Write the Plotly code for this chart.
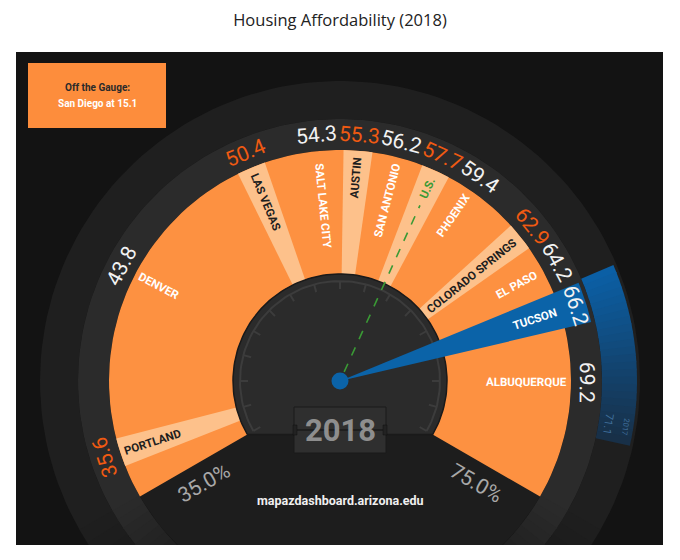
import numpy as np
import plotly.graph_objects as go

# ---- data ----
title = "Housing Affordability (2018)"
cities = ["Portland", "Denver", "Las Vegas", "Salt Lake City", "Austin", "San Antonio",
          "U.S.", "Phoenix", "Colorado Springs", "El Paso", "Tucson", "Albuquerque"]
values = [35.6, 43.8, 50.4, 54.3, 55.3, 56.2, 57.7, 59.4, 62.9, 64.2, 66.2, 69.2]
gauge_range = [35.0, 75.0]
highlight = "Tucson"
prev_year = "2017"
prev_value = 71.1
year = "2018"
off_gauge = ["San Diego", 15.1]
source = "mapazdashboard.arizona.edu"

# ---- styling ----
FONT = "Roboto, Liberation Sans, sans-serif"
ORANGE = "#fd9141"
ORANGE_LIGHT = "#fdc18b"
ORANGE_TEXT = "#f05a12"
BLUE = "#0b63a8"
A0, A1 = 210.0, -30.0          # screen angle of gauge min / max
SLOT = 10.0                    # angular room given to each city
R_DIAL, R_GAUGE, R_VALUE, R_OUTER = 107, 231, 262, 300


def ang(v):
    lo, hi = gauge_range
    return A0 + (v - lo) / (hi - lo) * (A1 - A0)


def spread(ideal, gap, hi):
    # push neighbouring labels apart so they don't overlap
    pos = list(ideal)
    for _ in range(400):
        for i in range(len(pos) - 1):
            d = pos[i] - pos[i + 1]
            if d < gap:
                s = (gap - d) / 2
                pos[i] += s
                pos[i + 1] -= s
        pos[0] = min(pos[0], hi)
    return pos


def xy(r, a):
    t = np.radians(a)
    return r * np.cos(t), r * np.sin(t)


def sector(r0, r1, a0, a1, n=48):
    t = np.linspace(a0, a1, n)
    xo, yo = xy(r1, t)
    if r0 <= 0:
        return [0, *xo, 0], [0, *yo, 0]
    xi, yi = xy(r0, t[::-1])
    return [*xo, *xi, xo[0]], [*yo, *yi, yo[0]]


fig = go.Figure()


def poly(xs, ys, color):
    fig.add_trace(go.Scatter(x=xs, y=ys, mode="lines", fill="toself", fillcolor=color,
                             line=dict(width=0, color=color), hoverinfo="skip", showlegend=False))


def mix(c0, c1, f):
    return "rgb(%d,%d,%d)" % tuple(round(a + (b - a) * f) for a, b in zip(c0, c1))


def fading_ring(r0, r1, core, edge, ext=22, steps=10):
    poly(*sector(r0, r1, A0, A1, 120), mix(core, core, 0))
    for k in range(steps):
        f0, f1 = k / steps, (k + 1) / steps
        c = mix(core, edge, (k + 0.5) / steps)
        poly(*sector(r0, r1, A0 + ext * f0 - 0.3, A0 + ext * f1, 6), c)
        poly(*sector(r0, r1, A1 - ext * f0 + 0.3, A1 - ext * f1, 6), c)


pos = spread([ang(v) - SLOT / 2 for v in values], SLOT, A0 - 12)
hi_idx = cities.index(highlight)

# rings and inner disc
fading_ring(R_VALUE, R_OUTER, (31, 31, 31), (20, 20, 20), ext=30)
fading_ring(R_GAUGE, R_VALUE, (43, 43, 43), (28, 28, 28), ext=22)
poly(*sector(0, R_GAUGE, 0, 360, 120), "#1d1d1d")

# orange gauge + light bands
poly(*sector(R_DIAL, R_GAUGE, A0, A1, 120), ORANGE)
for i, a in enumerate(pos):
    if i % 2 == 0 and cities[i] != highlight:
        poly(*sector(R_DIAL, R_GAUGE, a + 3.6, a - 3.6, 8), ORANGE_LIGHT)

# dial
dx, dy = xy(R_DIAL, np.linspace(A0, A1, 120))
fig.add_trace(go.Scatter(x=[*dx, dx[0]], y=[*dy, dy[0]], mode="lines", fill="toself",
                         fillcolor="#2b2b2b", line=dict(width=1.5, color="#1a1a1a"),
                         hoverinfo="skip", showlegend=False))
rx, ry = xy(100, np.linspace(A0, A1, 120))
fig.add_trace(go.Scatter(x=rx, y=ry, mode="lines", line=dict(width=2, color="#3c3c3c"),
                         hoverinfo="skip", showlegend=False))
tx, ty = [], []
for a in np.arange(A0, A1 - 0.1, -15):
    x0, y0 = xy(92, a)
    x1, y1 = xy(100, a)
    tx += [x0, x1, None]
    ty += [y0, y1, None]
fig.add_trace(go.Scatter(x=tx, y=ty, mode="lines", line=dict(width=2, color="#3c3c3c"),
                         hoverinfo="skip", showlegend=False))

# U.S. reference line
us = cities.index("U.S.")
ux, uy = xy(np.array([10, 226 - len(cities[us]) * 7 - 5]), pos[us])
fig.add_trace(go.Scatter(x=ux, y=uy, mode="lines", line=dict(width=1.6, color="#3a9a35", dash="dash"),
                         hoverinfo="skip", showlegend=False))

# highlighted city: wedge + change since previous year on the outer ring
poly(*sector(0, 258, pos[hi_idx] + 4.6, pos[hi_idx] - 4.6, 10), BLUE)
a_from, a_to = ang(values[hi_idx]), ang(prev_value) - 6
n = 24
for k in range(n):
    s0 = a_from + (a_to - a_from) * k / n
    s1 = a_from + (a_to - a_from) * (k + 1) / n
    poly(*sector(R_VALUE, R_OUTER - 3, s0 + 0.2, s1, 4), mix((11, 95, 165), (24, 48, 72), k / (n - 1)))
fig.add_trace(go.Scatter(x=[0], y=[0], mode="markers", marker=dict(size=17, color=BLUE),
                         hoverinfo="skip", showlegend=False))

ann = []
for i, (c, v, a) in enumerate(zip(cities, values, pos)):
    light = i % 2 == 0 and c != highlight
    # value on the dark ring
    x, y = xy(247, a)
    ann.append(dict(x=x, y=y, text=f"{v:.1f}", textangle=90 - a, showarrow=False,
                    font=dict(family=FONT, size=21, color=ORANGE_TEXT if light else "#f2f2f2")))
    # city name along the radius
    name = c if c == "U.S." else c.upper()
    rc = 226 - len(name) * 3.6
    x, y = xy(rc, a)
    col = "#3a9a35" if c == "U.S." else ("#1e1e1e" if light else "white")
    ann.append(dict(x=x, y=y, text=name, textangle=(180 - a) if a > 90 else -a, showarrow=False,
                    font=dict(family=FONT, size=11.5, color=col, weight="bold")))

pa = ang(prev_value) - 2.5
x, y = xy(272, pa)
ann.append(dict(x=x, y=y, text=f"{prev_value:.1f}", textangle=90 - pa, showarrow=False,
                font=dict(family=FONT, size=11, color="#41709c")))
x, y = xy(289, pa)
ann.append(dict(x=x, y=y, text=prev_year, textangle=90 - pa, showarrow=False,
                font=dict(family=FONT, size=7.5, color="#41709c")))

# gauge end labels
for v, a, ta in [(gauge_range[0], A0 + 7, 180 - A0), (gauge_range[1], A1 - 7, -A1)]:
    x, y = xy(170, a)
    ann.append(dict(x=x, y=y, text=f"{v:.1f}%", textangle=ta, showarrow=False,
                    font=dict(family=FONT, size=21, color="#a8a8a8")))

ann.append(dict(x=0, y=-49, text=year, showarrow=False,
                font=dict(family=FONT, size=31, color="#8e8e8e", weight="bold")))
ann.append(dict(x=0, y=-119, text=source, showarrow=False,
                font=dict(family=FONT, size=12.5, color="#f0f0f0", weight="bold")))
ann.append(dict(x=-243, y=294, text="Off the Gauge:", showarrow=False,
                font=dict(family=FONT, size=10, color="#2a2a2a", weight="bold")))
ann.append(dict(x=-243, y=278, text=f"{off_gauge[0]} at {off_gauge[1]}", showarrow=False,
                font=dict(family=FONT, size=10, color="white", weight="bold")))

shapes = [
    dict(type="rect", x0=-312, x1=-174, y0=253, y1=318, fillcolor="#fd8d3c", line=dict(width=0), layer="above"),
    dict(type="rect", x0=-46, x1=46, y0=-72, y1=-26, fillcolor="#2f2f2f",
         line=dict(width=1, color="#1a1a1a"), layer="above"),
    dict(type="line", x0=-44, x1=44, y0=-49, y1=-49, line=dict(width=1, color="#111"), layer="above"),
    dict(type="rect", x0=-47, x1=-43, y0=-54, y1=-44, fillcolor="#222", line=dict(width=0.5, color="#111"), layer="above"),
    dict(type="rect", x0=43, x1=47, y0=-54, y1=-44, fillcolor="#222", line=dict(width=0.5, color="#111"), layer="above"),
]

# the page adds an 8px body margin, so the figure is laid out 8px up/left of the target
fig.update_layout(
    width=680, height=560,
    margin=dict(l=8, r=25, t=44, b=23),
    paper_bgcolor="white", plot_bgcolor="#131313",
    title=dict(text=title, x=(340 - 8) / 680, xanchor="center", y=1 - 12 / 560, yanchor="middle",
               pad=dict(t=0, b=0), font=dict(family="Open Sans", size=16.5, color="#222")),
    xaxis=dict(range=[-324, 323], visible=False, fixedrange=True),
    yaxis=dict(range=[-164, 329], visible=False, fixedrange=True),
    annotations=ann, shapes=shapes, showlegend=False,
)

fig.write_html("out.html")
